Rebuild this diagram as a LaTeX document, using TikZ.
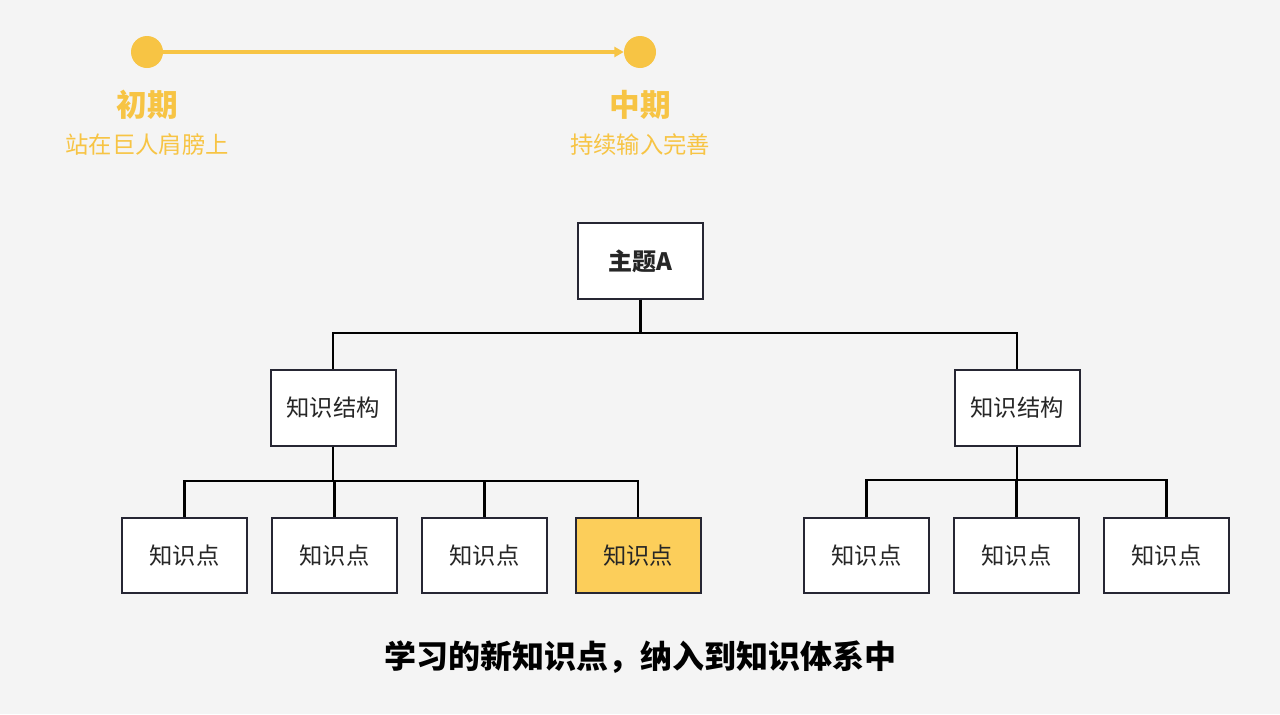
\documentclass[tikz,border=0pt]{standalone}
\usepackage{fontspec}
\setmainfont{Noto Sans CJK SC}
\usetikzlibrary{positioning, arrows.meta}
\definecolor{bg}{HTML}{F4F4F4}
\definecolor{gold}{HTML}{F7C444}
\definecolor{leaf}{HTML}{FCCE5A}
\definecolor{frame}{HTML}{262633}
\tikzstyle{block} = [rectangle, draw=frame, line width=1.5pt, fill=white,
                 minimum width=93.75pt, minimum height=56.5pt, text=black!85,
                 font=\fontsize{17.5}{20}\selectfont]
\tikzstyle{branch} = [draw=black, line width=1.6pt]
\tikzset{
	stage/.style={circle, fill=gold, minimum size=24pt, inner sep=0pt},
	stagetitle/.style={text=gold, font=\bfseries\fontsize{23}{26}\selectfont},
	stagenote/.style={text=gold, font=\fontsize{17.5}{20}\selectfont},
}

\begin{document}
\begin{tikzpicture}[x=0.75pt, y=-0.75pt]

\useasboundingbox[fill=bg] (0,0) rectangle (1280,714);

	%timeline
\node [stage] at (147,52) (early) {};
\node [stage] at (640,52) (mid) {};
\draw[gold, line width=2.6pt, -{Triangle[length=7pt, width=7.5pt]}] (early) -- (mid);
\node [stagetitle] at (147,105) (earlytitle) {初期};
\node [stagenote] at (147,145) (earlynote) {站在巨人肩膀上};
\node [stagetitle] at (640,105) (midtitle) {中期};
\node [stagenote] at (640,145) (midnote) {持续输入完善};

	%tree
\node [block, font=\bfseries\fontsize{18}{20}\selectfont] at (640.5,261) (topic) {主题A};
\node [block] at (333,408) (ksl) {知识结构};
\node [block] at (1017,408) (ksr) {知识结构};

\foreach \x/\n in {184.5/l1, 334.5/l2, 484.5/l3, 866.5/r1, 1016.5/r2, 1166.5/r3}
	\node [block] at (\x,555.5) (\n) {知识点};
\node [block, fill=leaf] at (638,555.5) (l4) {知识点};

\path[branch] (topic.south) -- +(0,33) -| (ksl.north);
\path[branch] (topic.south) -- +(0,33) -| (ksr.north);
\foreach \n in {l1, l2, l3, l4}
	\path[branch] (ksl.south) -- +(0,34) -| (\n.north);
\foreach \n in {r1, r2, r3}
	\path[branch] (ksr.south) -- +(0,33) -| (\n.north);

\node [font=\bfseries\fontsize{24}{28}\selectfont] at (640,657) (caption) {学习的新知识点，纳入到知识体系中};

\end{tikzpicture}
\end{document}
